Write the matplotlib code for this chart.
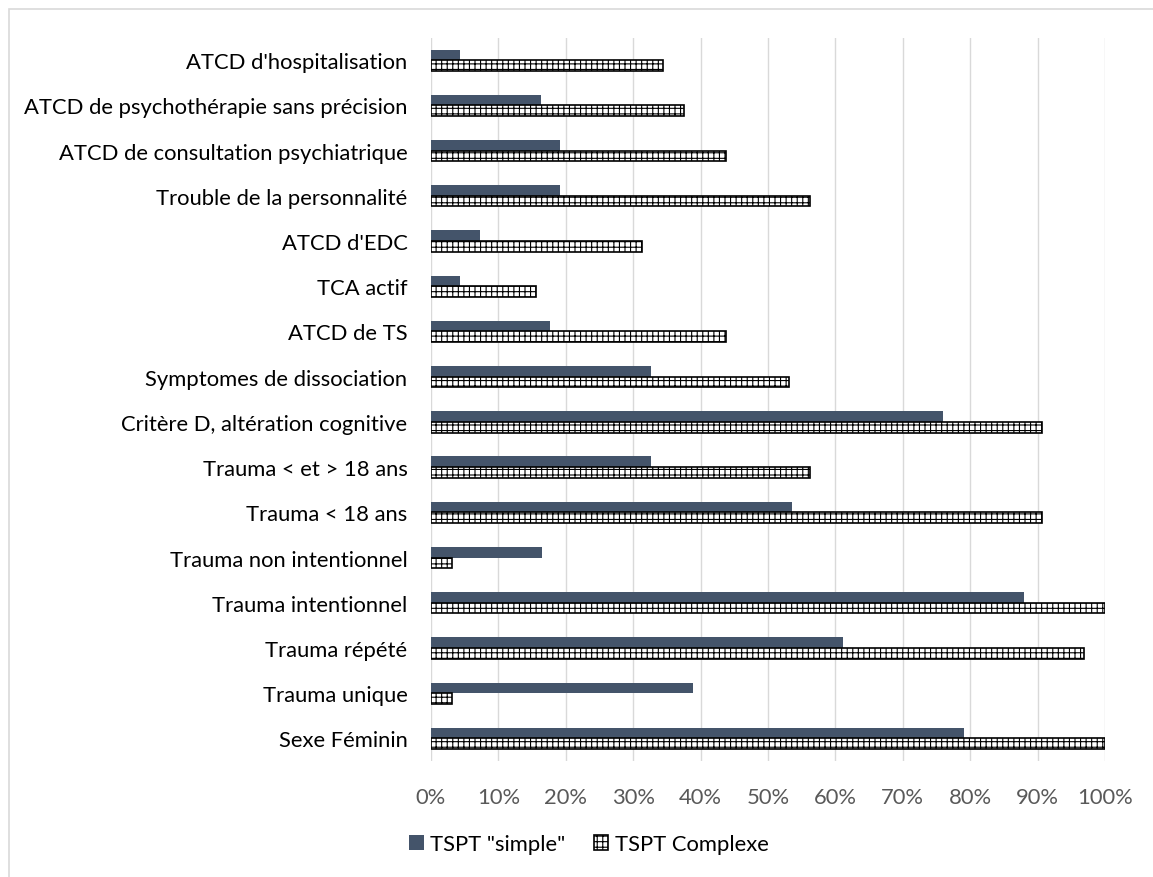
import numpy as np
import matplotlib.pyplot as plt
from matplotlib.patches import Rectangle

# categories, top to bottom as shown in the chart
categories = [
    "ATCD d'hospitalisation",
    "ATCD de psychothérapie sans précision",
    "ATCD de consultation psychiatrique",
    "Trouble de la personnalité",
    "ATCD d'EDC",
    "TCA actif",
    "ATCD de TS",
    "Symptomes de dissociation",
    "Critère D, altération cognitive",
    "Trauma < et > 18 ans",
    "Trauma < 18 ans",
    "Trauma non intentionnel",
    "Trauma intentionnel",
    "Trauma répété",
    "Trauma unique",
    "Sexe Féminin",
]
simple = [4.3, 16.3, 19.2, 19.2, 7.3, 4.3, 17.7, 32.7, 76.0, 32.7, 53.6, 16.4, 88.0, 61.1, 38.8, 79.1]
complexe = [34.4, 37.5, 43.8, 56.3, 31.3, 15.6, 43.8, 53.1, 90.6, 56.3, 90.6, 3.1, 100, 96.9, 3.1, 100]
xticks = np.arange(0, 101, 10)
xticklabels = [f"{t}%" for t in xticks]

plt.rcParams['font.family'] = ['Lato', 'DejaVu Sans']
plt.rcParams['hatch.linewidth'] = 0.8

W, H = 1153, 878
fig = plt.figure(figsize=(W / 100, H / 100), dpi=100)
ax = fig.add_axes([431 / W, 1 - 762 / H, 674 / W, (762 - 38.6) / H])

# bottom to top for matplotlib
cats = categories[::-1]
s = simple[::-1]
c = complexe[::-1]
y = np.arange(len(cats))
h = 0.235

ax.barh(y + h / 2, s, height=h, color='#44546a', zorder=3, label='TSPT "simple"')
ax.barh(y - h / 2, c, height=h, color='white', edgecolor='black', linewidth=1.2,
        hatch='+++', zorder=3, label='TSPT Complexe')

ax.set_xlim(0, 100)
ax.set_ylim(-0.5, len(cats) - 0.5)
ax.set_xticks(xticks)
ax.set_xticklabels(xticklabels)
ax.set_yticks(y)
ax.set_yticklabels(cats)
ax.tick_params(axis='x', length=0, pad=19, labelsize=15.8, labelcolor='#595959')
ax.tick_params(axis='y', length=0, pad=17, labelsize=15.8, labelcolor='black')
ax.grid(axis='x', color='#d9d9d9', linewidth=1.0, zorder=0)
for sp in ax.spines.values():
    sp.set_visible(False)

fig.legend(loc='center', bbox_to_anchor=(589 / W, 1 - 845 / H), ncol=2, frameon=False,
           fontsize=15.8, handlelength=0.65, handleheight=0.65, handletextpad=0.3,
           columnspacing=1.3)

# chart area border (right and bottom fall outside the image)
fig.add_artist(Rectangle((8.5 / W, -0.1), 1.2, 1 - 9.5 / H + 0.1, transform=fig.transFigure,
                         fill=False, edgecolor='#d9d9d9', linewidth=1.2))

fig.savefig('out.png', dpi=100)
